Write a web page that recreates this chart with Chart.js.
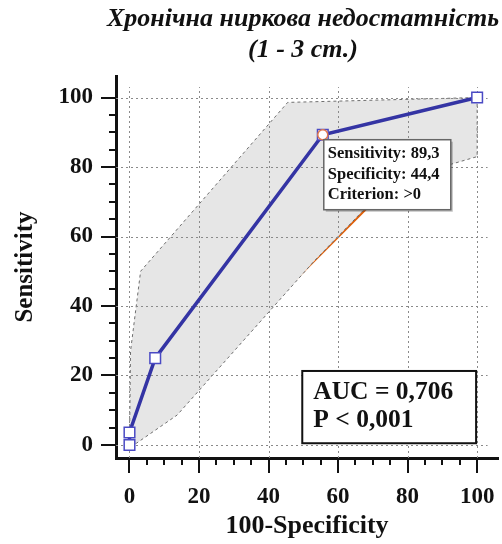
<!DOCTYPE html>
<html>
<head>
<meta charset="utf-8">
<script src="https://cdn.jsdelivr.net/npm/chart.js@4"></script>
<style>
  html, body { margin: 0; padding: 0; background: #fff; }
  #wrap { width: 502px; height: 544px; }
</style>
</head>
<body>
<div id="wrap"><canvas id="roc" width="502" height="544"></canvas></div>
<script>
// ROC curve (100-Specificity, Sensitivity)
const rocX = [0, 0, 7.4, 55.6, 100];
const rocY = [0, 3.6, 25.0, 89.3, 100];

// 95% confidence band
const upperX = [0, 0.3, 3.2, 45.5, 100];
const upperY = [0, 27, 50, 98.6, 100];
const lowerX = [0, 2, 13.7, 53, 68.5, 87.4, 100];
const lowerY = [0, 0.5, 8.6, 52.8, 68.8, 79.3, 83];

// reference diagonal
const diagX = [0, 100];
const diagY = [0, 100];

// selected criterion
const critX = [55.6];
const critY = [89.3];
const critLines = ["Sensitivity: 89,3", "Specificity: 44,4", "Criterion: >0"];

const aucLines = ["AUC = 0,706", "P < 0,001"];
const titleLines = ["Хронічна ниркова недостатність", "(1 - 3 ст.)"];

const xTicks = [0, 20, 40, 60, 80, 100];
const yTicks = [0, 20, 40, 60, 80, 100];

const SERIF = "'Liberation Serif', 'Times New Roman', serif";

const toPts = (xs, ys) => xs.map((x, i) => ({ x, y: ys[i] }));

// closed band polygon: upper forward, lower backward
const bandPts = toPts(upperX, upperY).concat(toPts(lowerX, lowerY).reverse());

// ── Plugins ──

const gridPlugin = {
  id: "dottedGrid",
  afterDatasetDraw(chart, args) {
    if (args.index !== 1) return;
    const { ctx, chartArea: a } = chart;
    const xs = chart.scales.x;
    const ys = chart.scales.y;
    const xEnd = xs.getPixelForValue(103);
    const yEnd = ys.getPixelForValue(103);
    ctx.save();
    ctx.strokeStyle = "#8a8a8a";
    ctx.lineWidth = 1;
    ctx.setLineDash([2, 3]);
    xTicks.forEach((v) => {
      const px = Math.round(xs.getPixelForValue(v)) + 0.5;
      ctx.beginPath();
      ctx.moveTo(px, a.bottom);
      ctx.lineTo(px, yEnd);
      ctx.stroke();
    });
    yTicks.forEach((v) => {
      const py = Math.round(ys.getPixelForValue(v)) + 0.5;
      ctx.beginPath();
      ctx.moveTo(a.left, py);
      ctx.lineTo(xEnd, py);
      ctx.stroke();
    });
    ctx.restore();
  },
};

const tickPlugin = {
  id: "tickMarks",
  afterDraw(chart) {
    const { ctx, chartArea: a } = chart;
    const xs = chart.scales.x;
    const ys = chart.scales.y;
    ctx.save();
    ctx.strokeStyle = "#111";
    ctx.lineWidth = 2;
    for (let v = 0; v <= 100; v += 5) {
      const major = v % 20 === 0;
      const len = major ? 15 : 7;
      const px = Math.round(xs.getPixelForValue(v));
      ctx.beginPath();
      ctx.moveTo(px, a.bottom);
      ctx.lineTo(px, a.bottom + len);
      ctx.stroke();
      const py = Math.round(ys.getPixelForValue(v));
      ctx.beginPath();
      ctx.moveTo(a.left, py);
      ctx.lineTo(a.left - len, py);
      ctx.stroke();
    }
    ctx.restore();
  },
};

const boxesPlugin = {
  id: "boxes",
  afterDatasetsDraw(chart) {
    const { ctx } = chart;
    const xs = chart.scales.x;
    const ys = chart.scales.y;

    // criterion label
    const cx = xs.getPixelForValue(critX[0]) + 1;
    const cy = ys.getPixelForValue(critY[0]) + 5;
    ctx.save();
    ctx.fillStyle = "rgba(0,0,0,0.25)";
    ctx.fillRect(cx + 2, cy + 2, 127, 70);
    ctx.fillStyle = "#fff";
    ctx.fillRect(cx, cy, 127, 70);
    ctx.strokeStyle = "#666";
    ctx.lineWidth = 1.5;
    ctx.strokeRect(cx, cy, 127, 70);
    ctx.fillStyle = "#111";
    ctx.font = "bold 16.5px " + SERIF;
    ctx.textBaseline = "middle";
    critLines.forEach((t, i) => ctx.fillText(t, cx + 4, cy + 14 + i * 20.7));

    // AUC box
    const bx = xs.getPixelForValue(49.7);
    const bx2 = xs.getPixelForValue(99.7);
    const by = ys.getPixelForValue(21.3);
    const by2 = ys.getPixelForValue(0.5);
    ctx.fillStyle = "#fff";
    ctx.fillRect(bx, by, bx2 - bx, by2 - by);
    ctx.strokeStyle = "#111";
    ctx.lineWidth = 2;
    ctx.strokeRect(bx, by, bx2 - bx, by2 - by);
    ctx.fillStyle = "#111";
    ctx.font = "bold 25.5px " + SERIF;
    aucLines.forEach((t, i) => ctx.fillText(t, bx + 11, by + 21 + i * 28.5));
    ctx.restore();
  },
  afterDraw(chart) {
    const { ctx } = chart;
    ctx.save();
    ctx.fillStyle = "#111";
    ctx.font = "italic bold 26px " + SERIF;
    ctx.textAlign = "center";
    ctx.textBaseline = "middle";
    ctx.fillText(titleLines[0], 303, 19);
    ctx.fillText(titleLines[1], 303, 50);
    ctx.restore();
  },
};

// ── Chart ──

new Chart(document.getElementById("roc"), {
  type: "scatter",
  data: {
    datasets: [
      {
        label: "diagonal",
        data: toPts(diagX, diagY),
        showLine: true,
        borderColor: "#e0600a",
        borderWidth: 3,
        pointRadius: 0,
        order: 3,
      },
      {
        label: "band",
        data: bandPts,
        showLine: true,
        fill: "shape",
        backgroundColor: "#e6e6e6",
        borderColor: "#6e6e6e",
        borderWidth: 1,
        borderDash: [3, 3],
        pointRadius: 0,
        order: 2,
      },
      {
        label: "ROC",
        data: toPts(rocX, rocY),
        showLine: true,
        borderColor: "#3434a4",
        borderWidth: 3.5,
        pointStyle: "rect",
        pointRadius: 7.5,
        pointBackgroundColor: "#fff",
        pointBorderColor: "#4a4ac4",
        pointBorderWidth: 1.5,
        order: 1,
      },
      {
        label: "criterion",
        data: toPts(critX, critY),
        pointStyle: "circle",
        pointRadius: 5,
        pointBackgroundColor: "#fff",
        pointBorderColor: "#e07850",
        pointBorderWidth: 1.5,
        order: 0,
      },
    ],
  },
  options: {
    responsive: false,
    animation: false,
    layout: { autoPadding: false, padding: { top: 76, right: 4, left: 0, bottom: 0 } },
    plugins: {
      legend: { display: false },
      tooltip: { enabled: false },
    },
    scales: {
      x: {
        type: "linear",
        min: -3.88,
        max: 106,
        afterBuildTicks: (s) => { s.ticks = xTicks.map((v) => ({ value: v })); },
        afterFit: (s) => { s.height = 86; s.paddingLeft = 0; s.paddingRight = 0; },
        grid: { display: false, drawTicks: false },
        border: { display: true, color: "#111", width: 3 },
        ticks: {
          autoSkip: false,
          maxRotation: 0,
          padding: 25,
          color: "#111",
          font: { family: SERIF, size: 23, weight: "bold" },
        },
        title: {
          display: true,
          text: "100-Specificity",
          color: "#111",
          padding: { top: 0, bottom: 2 },
          font: { family: SERIF, size: 26, weight: "bold" },
        },
      },
      y: {
        type: "linear",
        min: -3.75,
        max: 106.2,
        afterBuildTicks: (s) => { s.ticks = yTicks.map((v) => ({ value: v })); },
        afterFit: (s) => { s.width = 116; s.paddingTop = 0; s.paddingBottom = 0; },
        grid: { display: false, drawTicks: false },
        border: { display: true, color: "#111", width: 3 },
        ticks: {
          autoSkip: false,
          padding: 23,
          color: "#111",
          font: { family: SERIF, size: 23, weight: "bold" },
        },
        title: {
          display: true,
          text: "Sensitivity",
          color: "#111",
          padding: { top: 11, bottom: 0 },
          font: { family: SERIF, size: 25, weight: "bold" },
        },
      },
    },
  },
  plugins: [gridPlugin, tickPlugin, boxesPlugin],
});
</script>
</body>
</html>
